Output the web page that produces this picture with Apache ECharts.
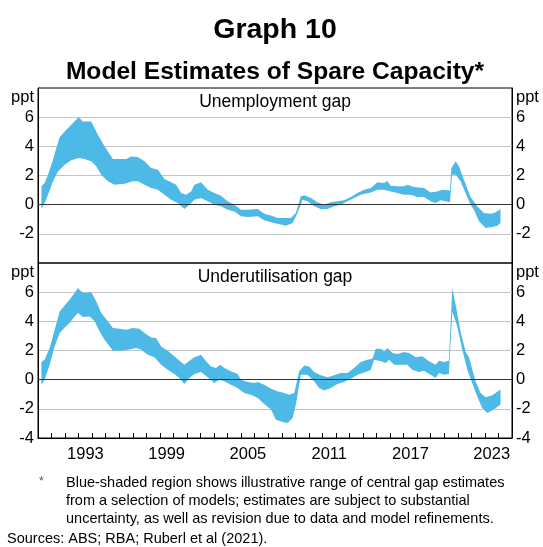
<!DOCTYPE html>
<html>
<head>
<meta charset="utf-8">
<script src="https://cdn.jsdelivr.net/npm/echarts@6.0.0/dist/echarts.min.js"></script>
<style>
html, body { margin: 0; padding: 0; background: #fff; }
#main { width: 543px; height: 547px; }
</style>
</head>
<body>
<div id="main"></div>
<script>
// Unemployment gap: upper and lower edge of the shaded range (ppt)
var unempUpperX = [1990.25, 1990.49, 1990.74, 1991.11, 1991.35, 1991.60, 1991.97, 1992.46, 1993.00, 1993.32, 1993.93, 1994.42, 1994.91, 1995.53, 1996.51, 1996.88, 1997.37, 1997.86, 1998.35, 1998.85, 1999.34, 1999.83, 2000.20, 2000.57, 2000.93, 2001.30, 2001.55, 2002.04, 2002.53, 2003.02, 2003.51, 2004.00, 2004.50, 2004.99, 2005.48, 2006.22, 2006.71, 2007.20, 2007.69, 2008.18, 2008.67, 2009.04, 2009.41, 2009.66, 2010.15, 2010.64, 2011.13, 2011.62, 2012.11, 2012.60, 2013.10, 2013.59, 2014.08, 2014.57, 2015.06, 2015.55, 2015.80, 2016.04, 2016.54, 2017.03, 2017.27, 2017.76, 2018.50, 2018.99, 2019.48, 2019.85, 2020.42, 2020.52, 2020.84, 2021.08, 2021.45, 2021.94, 2022.43, 2022.92, 2023.42, 2023.78, 2024.15];
var unempUpper = [1.26, 1.48, 2.05, 3.08, 3.88, 4.63, 5.02, 5.48, 6.00, 5.70, 5.70, 4.80, 4.00, 3.13, 3.13, 3.30, 3.27, 2.97, 2.51, 2.40, 1.76, 1.53, 1.37, 0.80, 0.68, 0.91, 1.37, 1.53, 1.03, 0.80, 0.62, 0.23, 0.00, -0.34, -0.34, -0.30, -0.62, -0.75, -0.91, -0.91, -0.91, -0.57, 0.57, 0.64, 0.46, 0.16, 0.00, 0.16, 0.23, 0.30, 0.53, 0.80, 1.03, 1.14, 1.53, 1.48, 1.62, 1.30, 1.26, 1.26, 1.37, 1.21, 1.14, 0.84, 0.91, 1.03, 0.98, 2.50, 2.97, 2.63, 1.71, 0.53, -0.11, -0.57, -0.62, -0.53, -0.30];
var unempLowerX = [1990.25, 1990.49, 1990.74, 1991.11, 1991.47, 1991.97, 1992.46, 1993.00, 1993.44, 1993.93, 1994.30, 1994.67, 1995.16, 1995.65, 1996.39, 1997.00, 1997.37, 1997.86, 1998.35, 1998.85, 1999.34, 1999.83, 2000.32, 2000.81, 2001.18, 2001.55, 2002.04, 2002.53, 2003.02, 2003.51, 2004.00, 2004.50, 2004.99, 2005.48, 2006.22, 2006.71, 2007.20, 2007.69, 2008.30, 2008.80, 2009.16, 2009.53, 2009.90, 2010.39, 2010.88, 2011.38, 2011.87, 2012.36, 2012.85, 2013.34, 2013.83, 2014.57, 2015.06, 2015.55, 2016.04, 2016.54, 2017.03, 2017.52, 2018.01, 2018.50, 2018.99, 2019.36, 2019.73, 2020.10, 2020.42, 2020.57, 2020.84, 2021.20, 2021.57, 2021.94, 2022.19, 2022.56, 2023.05, 2023.54, 2023.91, 2024.15];
var unempLower = [-0.30, 0.11, 0.68, 1.60, 2.28, 2.74, 3.04, 3.20, 3.13, 2.97, 2.63, 2.05, 1.60, 1.37, 1.44, 1.60, 1.60, 1.37, 1.14, 1.03, 0.68, 0.34, 0.11, -0.30, 0.00, 0.34, 0.46, 0.23, 0.00, -0.11, -0.34, -0.46, -0.80, -0.84, -0.80, -1.07, -1.21, -1.30, -1.44, -1.26, -0.57, 0.34, 0.23, -0.11, -0.30, -0.30, -0.11, 0.00, 0.23, 0.46, 0.68, 0.84, 1.03, 1.03, 0.91, 0.80, 0.68, 0.68, 0.53, 0.53, 0.23, 0.11, 0.30, 0.23, 0.16, 2.05, 2.05, 1.60, 0.80, 0.00, -0.34, -1.14, -1.60, -1.53, -1.44, -1.26];

// Underutilisation gap
var underUpperX = [1990.25, 1990.49, 1990.86, 1991.23, 1991.60, 1991.97, 1992.33, 1992.70, 1992.95, 1993.19, 1993.44, 1993.93, 1994.30, 1994.67, 1995.16, 1995.53, 1996.02, 1996.51, 1997.00, 1997.49, 1997.86, 1998.35, 1998.72, 1999.09, 1999.58, 2000.07, 2000.44, 2000.81, 2001.18, 2001.55, 2002.04, 2002.41, 2002.78, 2003.14, 2003.46, 2003.76, 2004.25, 2004.74, 2004.99, 2005.48, 2005.97, 2006.22, 2006.71, 2007.20, 2007.69, 2008.18, 2008.55, 2008.92, 2009.29, 2009.66, 2010.02, 2010.39, 2010.88, 2011.38, 2011.87, 2012.36, 2012.85, 2013.34, 2013.83, 2014.32, 2014.69, 2014.94, 2015.31, 2015.55, 2015.80, 2016.17, 2016.54, 2017.03, 2017.40, 2017.89, 2018.38, 2018.87, 2019.36, 2019.61, 2019.98, 2020.34, 2020.59, 2020.84, 2021.20, 2021.57, 2021.82, 2021.94, 2022.31, 2022.68, 2023.05, 2023.54, 2024.15];
var underUpper = [1.21, 1.37, 2.17, 3.42, 4.68, 5.09, 5.48, 5.94, 6.28, 6.05, 5.94, 6.00, 5.37, 4.57, 4.00, 3.54, 3.49, 3.42, 3.54, 3.49, 3.20, 2.90, 2.85, 2.28, 1.99, 1.60, 1.30, 1.03, 1.30, 1.53, 1.71, 1.26, 0.91, 0.80, 1.03, 0.80, 0.57, 0.39, 0.00, -0.16, -0.23, -0.16, -0.34, -0.62, -0.80, -0.91, -1.03, -0.91, 0.57, 0.98, 0.91, 0.53, 0.30, 0.16, 0.30, 0.46, 0.46, 0.80, 1.21, 1.37, 1.44, 2.12, 2.12, 1.94, 2.17, 1.83, 1.76, 1.89, 1.83, 1.53, 1.60, 1.26, 1.03, 1.30, 1.21, 1.30, 6.28, 5.14, 3.31, 1.94, 1.53, 1.14, -0.11, -0.91, -1.21, -1.07, -0.68];
var underLowerX = [1990.25, 1990.49, 1990.86, 1991.23, 1991.60, 1991.97, 1992.33, 1992.70, 1992.95, 1993.32, 1993.81, 1994.18, 1994.55, 1994.91, 1995.53, 1996.14, 1996.63, 1997.25, 1997.62, 1998.11, 1998.60, 1999.09, 1999.58, 2000.07, 2000.44, 2000.81, 2001.18, 2001.55, 2002.04, 2002.53, 2003.02, 2003.39, 2003.76, 2004.25, 2004.74, 2005.23, 2005.72, 2006.22, 2006.71, 2007.20, 2007.57, 2008.06, 2008.43, 2008.80, 2009.04, 2009.41, 2009.90, 2010.39, 2010.76, 2011.13, 2011.62, 2012.11, 2012.60, 2013.10, 2013.59, 2014.20, 2014.57, 2014.82, 2015.31, 2015.68, 2015.92, 2016.29, 2016.78, 2017.27, 2017.64, 2018.13, 2018.50, 2018.99, 2019.36, 2019.61, 2019.98, 2020.34, 2020.59, 2020.96, 2021.33, 2021.70, 2022.06, 2022.43, 2022.80, 2023.17, 2023.66, 2024.15];
var underLower = [-0.34, 0.00, 1.03, 2.28, 3.20, 3.58, 3.88, 4.34, 4.57, 4.29, 4.34, 4.00, 3.31, 2.74, 1.99, 1.99, 2.05, 2.17, 2.05, 1.71, 1.53, 1.03, 0.68, 0.39, 0.11, -0.30, 0.11, 0.39, 0.53, 0.16, -0.23, 0.00, -0.11, -0.34, -0.57, -0.91, -1.03, -1.26, -1.67, -2.05, -2.74, -2.90, -2.97, -2.63, -1.71, 0.34, 0.34, -0.11, -0.57, -0.75, -0.57, -0.30, -0.16, 0.07, 0.34, 0.53, 0.68, 1.37, 1.26, 1.14, 1.37, 1.03, 1.03, 1.03, 0.68, 0.53, 0.62, 0.34, 0.11, 0.46, 0.34, 0.39, 4.68, 3.65, 2.05, 0.68, -0.23, -1.14, -1.94, -2.28, -2.05, -1.71];

var yearLabels = [1993, 1999, 2005, 2011, 2017, 2023];
var footnote = [
  'Blue-shaded region shows illustrative range of central gap estimates',
  'from a selection of models; estimates are subject to substantial',
  'uncertainty, as well as revision due to data and model refinements.'
];

var FONT = '"Liberation Sans", Arial, sans-serif';
var BLUE = '#4DB9E6';

function bandItem(upX, up, loX, lo) {
  return function (params, api) {
    var pts = [];
    for (var i = 0; i < upX.length; i++) pts.push(api.coord([upX[i], up[i]]));
    for (var j = loX.length - 1; j >= 0; j--) pts.push(api.coord([loX[j], lo[j]]));
    return { type: 'polygon', shape: { points: pts }, style: { fill: BLUE } };
  };
}

function yLabel(showBottom) {
  return function (v) {
    if (v === 8) return '{u|ppt}';
    if (v === -4 && !showBottom) return '';
    return String(v);
  };
}

function yAxis(grid, pos, showBottom) {
  return {
    type: 'value', gridIndex: grid, position: pos, min: -4, max: 8, interval: 2,
    axisLine: { show: true, lineStyle: { color: '#000', width: 1 } },
    axisTick: { show: false },
    axisLabel: {
      formatter: yLabel(showBottom), color: '#000', fontSize: 16.5, fontFamily: FONT, margin: 4,
      rich: { u: { fontSize: 16.5, fontFamily: FONT, color: '#000', padding: [18, 0, 0, 0] } }
    },
    splitLine: pos === 'left' ? { show: true, showMinLine: false, showMaxLine: false, lineStyle: { color: '#C4C4C4', width: 1 } } : { show: false }
  };
}

var zeroLine = {
  silent: true, symbol: 'none', label: { show: false },
  lineStyle: { color: '#333', width: 1, type: 'solid' },
  data: [{ yAxis: 0 }]
};

var myChart = echarts.init(document.getElementById('main'));

option = {
  animation: false,
  backgroundColor: '#fff',
  title: [
    { text: 'Graph 10', left: 275, top: 16, textAlign: 'center', padding: 0,
      textStyle: { fontSize: 28.5, fontWeight: 'bold', fontFamily: FONT, color: '#000' } },
    { text: 'Model Estimates of Spare Capacity*', left: 275, top: 60, textAlign: 'center', padding: 0,
      textStyle: { fontSize: 24.6, fontWeight: 'bold', fontFamily: FONT, color: '#000' } },
    { text: 'Unemployment gap', left: 275, top: 93, textAlign: 'center', padding: 0,
      textStyle: { fontSize: 17.5, fontWeight: 'normal', fontFamily: FONT, color: '#000' } },
    { text: 'Underutilisation gap', left: 275, top: 268, textAlign: 'center', padding: 0,
      textStyle: { fontSize: 17.5, fontWeight: 'normal', fontFamily: FONT, color: '#000' } }
  ],
  grid: [
    { left: 38, right: 31, top: 88, height: 175, show: true, borderColor: '#000', borderWidth: 1 },
    { left: 38, right: 31, top: 263, height: 175, show: true, borderColor: '#000', borderWidth: 1 }
  ],
  xAxis: [
    { type: 'value', gridIndex: 0, min: 1990, max: 2025, interval: 1,
      axisLine: { show: false }, axisTick: { show: false }, axisLabel: { show: false }, splitLine: { show: false } },
    { type: 'value', gridIndex: 1, min: 1990, max: 2025, interval: 1,
      axisLine: { show: true, onZero: false, lineStyle: { color: '#000', width: 1 } },
      axisTick: { show: true, inside: true, length: 5, lineStyle: { color: '#000', width: 1 } },
      axisLabel: {
        formatter: function (v) { return yearLabels.indexOf(v) >= 0 ? String(v) : ''; },
        color: '#000', fontSize: 16.5, fontFamily: FONT, margin: 8, padding: [0, 0, 0, 13.6]
      },
      splitLine: { show: false } }
  ],
  yAxis: [
    yAxis(0, 'left', false), yAxis(0, 'right', false),
    yAxis(1, 'left', true), yAxis(1, 'right', true)
  ],
  series: [
    { type: 'custom', name: 'Unemployment gap', xAxisIndex: 0, yAxisIndex: 0,
      data: [[unempUpperX[0], unempUpper[0]]],
      renderItem: bandItem(unempUpperX, unempUpper, unempLowerX, unempLower),
      markLine: zeroLine },
    { type: 'custom', name: 'Underutilisation gap', xAxisIndex: 1, yAxisIndex: 2,
      data: [[underUpperX[0], underUpper[0]]],
      renderItem: bandItem(underUpperX, underUpper, underLowerX, underLower),
      markLine: zeroLine }
  ],
  graphic: [
    { type: 'text', left: 39, top: 476, style: { text: '*', fontSize: 12, fontFamily: FONT, fill: '#555' } },
    { type: 'text', left: 66, top: 474, style: { text: footnote.join('\n'), fontSize: 14.5, lineHeight: 18, fontFamily: FONT, fill: '#000' } },
    { type: 'text', left: 7, top: 531, style: { text: 'Sources: ABS; RBA; Ruberl et al (2021).', fontSize: 14.5, fontFamily: FONT, fill: '#000' } }
  ]
};
myChart.setOption(option);
</script>
</body>
</html>
